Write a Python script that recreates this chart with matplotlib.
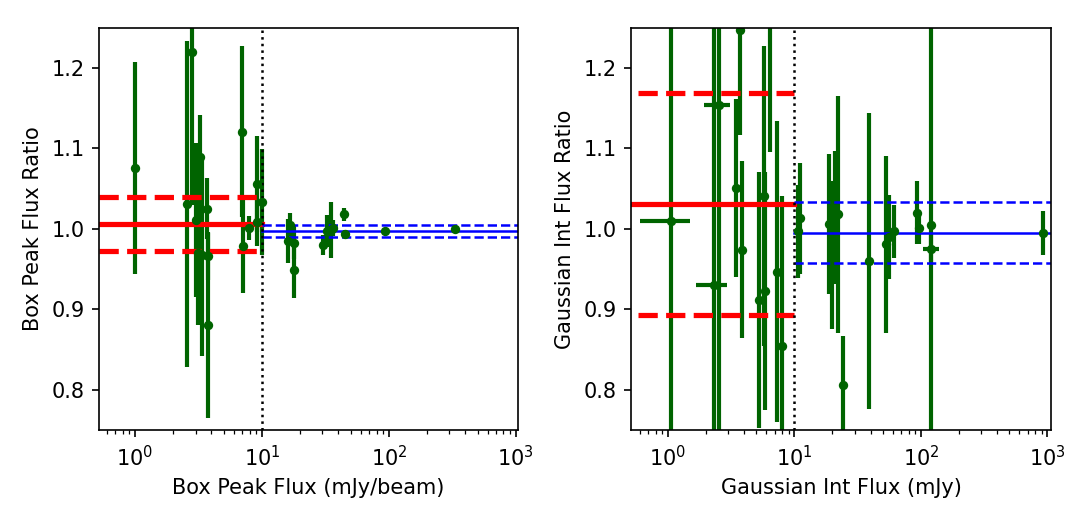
import matplotlib
matplotlib.use("Agg")
import numpy as np
import matplotlib.pyplot as plt

# ---- left panel: box peak flux ratio ----
box_flux = [1.0, 2.58, 2.79, 3.0, 3.15, 3.25, 3.35, 3.67, 3.78, 3.78,
            6.92, 7.13, 7.9, 9.08, 9.2, 9.95,
            16.1, 16.6, 17.9, 17.9, 30.4, 32.3, 34.7, 36.4, 44.2, 44.9, 93.0, 331.0]
box_ratio = [1.076, 1.031, 1.220, 1.011, 0.970, 1.090, 0.967, 1.025, 0.966, 0.880,
             1.121, 0.979, 1.001, 1.056, 1.009, 1.033,
             0.985, 1.005, 0.983, 0.949, 0.980, 0.997, 0.999, 1.001, 1.018, 0.994, 0.997, 1.000]
box_err = [0.132, 0.203, 0.19, 0.096, 0.09, 0.052, 0.125, 0.038, 0.03, 0.115,
           0.106, 0.059, 0.0145, 0.06, 0.03, 0.066,
           0.027, 0.015, 0.02, 0.035, 0.012, 0.02, 0.035, 0.01, 0.0083, 0.005, 0.004, 0.003]

box_faint_mean, box_faint_lo, box_faint_hi = 1.006, 0.973, 1.040
box_bright_mean, box_bright_lo, box_bright_hi = 0.998, 0.990, 1.005

# ---- right panel: gaussian integrated flux ratio ----
gi_flux = [1.055, 2.30, 2.52, 3.47, 3.69, 3.87, 5.24, 5.70, 5.81, 6.36, 7.26, 7.94,
           10.6, 11.15, 18.9, 19.8, 21.0, 22.3, 24.0, 38.9, 53.3, 56.0, 61.3,
           92.5, 96.4, 121.0, 121.0, 930.0]
gi_ratio = [1.010, 0.930, 1.154, 1.051, 1.247, 0.974, 0.912, 1.041, 0.923, 1.30, 0.947, 0.855,
            0.997, 1.013, 1.006, 0.968, 1.014, 1.018, 0.806, 0.960, 0.981, 0.990, 0.997,
            1.020, 1.001, 1.005, 0.975, 0.995]
gi_yerr = [0.5, 0.4, 0.5, 0.111, 0.13, 0.11, 0.159, 0.187, 0.148, 0.204, 0.187, 0.186,
           0.058, 0.069, 0.087, 0.092, 0.083, 0.147, 0.061, 0.184, 0.110, 0.052, 0.033,
           0.039, 0.02, 0.5, 0.02, 0.0275]
gi_xerr = [0.45, 0.64, 0.60, 0, 0, 0, 0.15, 0.15, 0.15, 0, 0.15, 0.3,
           0, 0, 0, 0, 0, 0, 0, 2.0, 0, 0, 0,
           0, 0, 0, 17.0, 0]

gi_faint_mean, gi_faint_lo, gi_faint_hi = 1.031, 0.893, 1.169
gi_bright_mean, gi_bright_lo, gi_bright_hi = 0.995, 0.957, 1.033

split = 10.0

fig = plt.figure(figsize=(1088 / 150, 525 / 150), dpi=150)
ax1 = fig.add_axes([0.091, 0.181, 0.385, 0.766])
ax2 = fig.add_axes([0.580, 0.181, 0.386, 0.766])


def draw_panel(ax, x, y, yerr, xerr, faint, bright, xlim, dash_start):
    ax.errorbar(x, y, yerr=yerr, xerr=xerr, fmt='o', color='darkgreen',
                ms=4.5, mew=0, elinewidth=2, capsize=0)
    fm, flo, fhi = faint
    bm, blo, bhi = bright
    ax.plot([xlim[0], split], [fm, fm], color='red', lw=2.5)
    for yy in (flo, fhi):
        ax.plot([dash_start, split], [yy, yy], color='red', lw=2.5, ls='--')
    ax.plot([split, xlim[1]], [bm, bm], color='blue', lw=1.2)
    for yy in (blo, bhi):
        ax.plot([split, xlim[1]], [yy, yy], color='blue', lw=1.2, ls='--')
    ax.axvline(split, color='black', ls=':', lw=1.2)
    ax.set_xscale('log')
    ax.set_xlim(*xlim)
    ax.set_ylim(0.75, 1.25)
    ax.set_yticks([0.8, 0.9, 1.0, 1.1, 1.2])


draw_panel(ax1, box_flux, box_ratio, box_err, None,
           (box_faint_mean, box_faint_lo, box_faint_hi),
           (box_bright_mean, box_bright_lo, box_bright_hi),
           (0.52, 1040), 0.52)
ax1.set_xlabel("Box Peak Flux (mJy/beam)")
ax1.set_ylabel("Box Peak Flux Ratio")

draw_panel(ax2, gi_flux, gi_ratio, gi_yerr, gi_xerr,
           (gi_faint_mean, gi_faint_lo, gi_faint_hi),
           (gi_bright_mean, gi_bright_lo, gi_bright_hi),
           (0.51, 1070), 0.58)
ax2.set_xlabel("Gaussian Int Flux (mJy)")
ax2.set_ylabel("Gaussian Int Flux Ratio")

fig.savefig("out.png", dpi=150)
